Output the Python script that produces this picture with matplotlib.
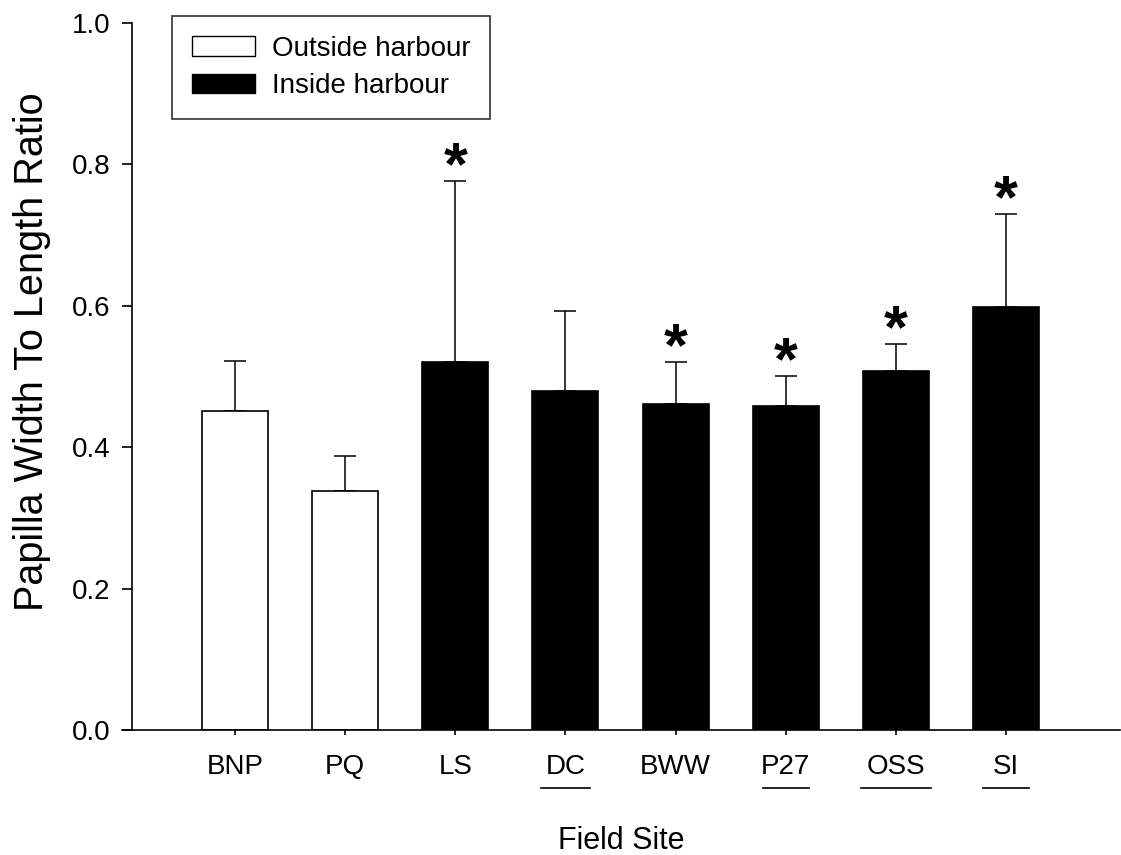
import numpy as np
import matplotlib
matplotlib.use("Agg")
import matplotlib.pyplot as plt
from matplotlib.patches import Patch

plt.rcParams['font.family'] = ['Liberation Sans', 'DejaVu Sans']

sites = ["BNP", "PQ", "LS", "DC", "BWW", "P27", "OSS", "SI"]
ratio = [0.451, 0.338, 0.521, 0.480, 0.461, 0.458, 0.508, 0.598]
upper = [0.522, 0.388, 0.776, 0.592, 0.520, 0.500, 0.546, 0.730]
inside = [False, False, True, True, True, True, True, True]
signif = [False, False, True, False, True, True, True, True]
underlined = {"DC": 0.22, "P27": 0.21, "OSS": 0.32, "SI": 0.21}

x = np.arange(len(sites))
err = np.array(upper) - np.array(ratio)
colors = ["black" if i else "white" for i in inside]

fig = plt.figure(figsize=(11.21, 8.55), dpi=100)
ax = fig.add_axes([122 / 1121, 125 / 855, 998 / 1121, 707 / 855])

ax.bar(x, ratio, width=0.6, color=colors, edgecolor="black", linewidth=1.2, zorder=2)
ax.errorbar(x, ratio, yerr=[np.zeros(len(err)), err], fmt="none", ecolor="black",
            elinewidth=1.1, capsize=8, capthick=1.1, zorder=1)

for xi, u, s in zip(x, upper, signif):
    if s:
        ax.text(xi, u - 0.004, "*", ha="center", va="baseline", fontsize=44,
                fontweight="bold")

ax.set_xlim(-1.026, 8.035)
ax.set_ylim(0, 1.0)
ax.set_yticks([0.0, 0.2, 0.4, 0.6, 0.8, 1.0])
ax.set_yticklabels(["0.0", "0.2", "0.4", "0.6", "0.8", "1.0"])
ax.set_xticks(x)
ax.set_xticklabels(sites)
ax.tick_params(axis="both", labelsize=20, width=1.2, direction="out")
ax.tick_params(axis="y", length=7.2, pad=8.6)
ax.tick_params(axis="x", length=3.6, pad=14)

ax.spines["top"].set_visible(False)
ax.spines["right"].set_visible(False)
ax.spines["left"].set_bounds(0, 1.0)
ax.spines["left"].set_linewidth(1.2)
ax.spines["bottom"].set_linewidth(1.2)
# y axis sits a little right of where the x axis starts
ax.spines["left"].set_position(("data", -0.935))

for name, half in underlined.items():
    i = sites.index(name)
    ax.plot([i - half, i + half], [-0.082, -0.082], color="black", lw=1.2,
            clip_on=False)

ax.set_xlabel("Field Site", fontsize=22, labelpad=33)
ax.set_ylabel("Papilla Width To Length Ratio", fontsize=28.5, labelpad=15)
ax.yaxis.label.set_y(0.535)

handles = [Patch(facecolor="white", edgecolor="black", label="Outside harbour"),
           Patch(facecolor="black", edgecolor="black", label="Inside harbour")]
leg = ax.legend(handles=handles, loc="upper left", bbox_to_anchor=(0.050, 1.0098),
                borderaxespad=0, fontsize=20, frameon=True, fancybox=False,
                edgecolor="black", handlelength=2.27, handleheight=0.72,
                handletextpad=0.6, borderpad=0.72, labelspacing=0.4)
leg.get_frame().set_linewidth(1.2)

fig.savefig("out.png", dpi=100)
